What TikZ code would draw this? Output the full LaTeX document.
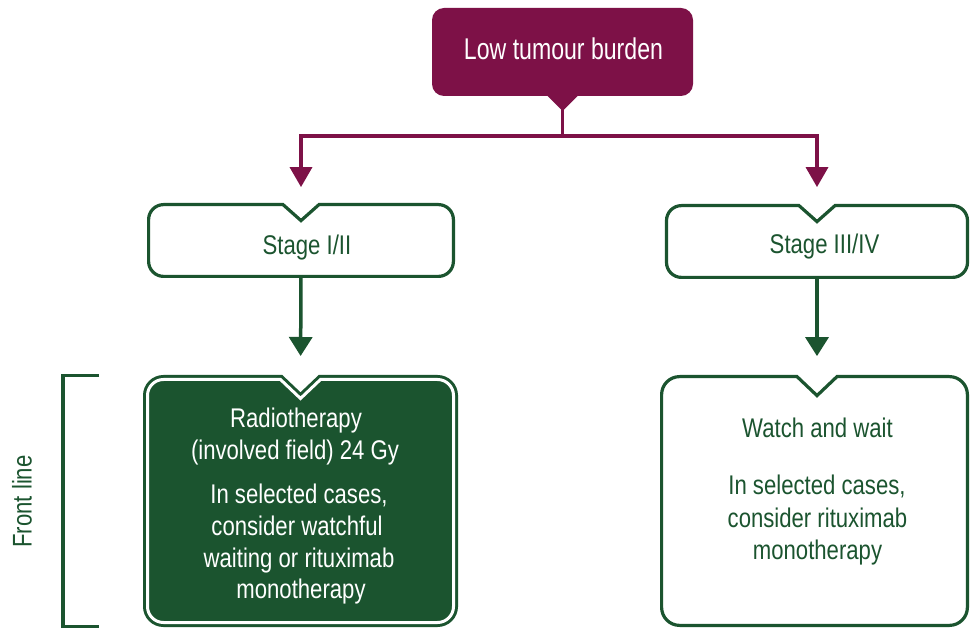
\documentclass[tikz,border=0pt]{standalone}
\usepackage{fontspec}
\setmainfont{Liberation Sans}[FakeStretch=0.82]
\newfontfamily\topfont{Liberation Sans}[FakeStretch=0.77]
\usetikzlibrary{arrows.meta}
\definecolor{mymaroon}{RGB}{125,17,71}
\definecolor{mygreen}{RGB}{27,84,47}
\newcommand\notchshape[5]{(#1.east) [rounded corners=#5] -- (#1.south east) -- (#1.south west) -- (#1.north west) -- ([xshift=-45pt]#2) [sharp corners] -- ([xshift=-#3]#2) -- ([yshift=-#4]#2) -- ([xshift=#3]#2) -- ([xshift=45pt]#2) [rounded corners=#5] -- (#1.north east) -- cycle}
\begin{document}
\begin{tikzpicture}[x=1pt,y=-1pt,
 box/.style={shape=rectangle, inner sep=0pt, outer sep=0pt},
 txt/.style={anchor=base, inner sep=0pt, outer sep=0pt, font=\fontsize{27}{27}\selectfont},
 mline/.style={draw=mymaroon, line width=3.5pt},
 marrow/.style={mline, -{Triangle[length=20pt,width=22pt]}},
 gline/.style={draw=mygreen, line width=3.5pt},
 garrow/.style={gline, -{Triangle[length=19pt,width=23pt]}},
 openbox/.style={draw=mygreen, line width=3.2pt, fill=white},
 darkbox/.style={draw=mygreen, fill=mygreen, line width=3pt, double=white, double distance=3pt},
]
\useasboundingbox (0,0) rectangle (970,628);
\fill[white] (0,0) rectangle (970,628);

% box frames
\node[box, minimum width=261pt, minimum height=88pt, fill=mymaroon, rounded corners=12pt] (top) at (562.5,52) {};
\node[box, minimum width=304.8pt, minimum height=71.8pt] (s1) at (301,240.5) {};
\node[box, minimum width=301pt, minimum height=71.8pt] (s2) at (817,241.5) {};
\node[box, minimum width=306pt, minimum height=243pt] (b1) at (300.5,501) {};
\node[box, minimum width=305.8pt, minimum height=248.8pt] (b2) at (814.5,501) {};

\coordinate (n1) at (s1.north);
\coordinate (n2) at (s2.north);
\coordinate (n3) at (b1.north);
\coordinate (n4) at (b2.north -| s2.south);

\draw[openbox] \notchshape{s1}{n1}{18pt}{16pt}{15pt};
\draw[openbox] \notchshape{s2}{n2}{18pt}{16pt}{15pt};
\draw[darkbox] \notchshape{b1}{n3}{20pt}{19pt}{16pt};
\draw[openbox] \notchshape{b2}{n4}{20pt}{19pt}{18pt};

% tab under top box
\fill[mymaroon] ([xshift=-16pt,yshift=1pt]top.south) -- ([xshift=16pt,yshift=1pt]top.south) -- ([yshift=-15pt]top.south) -- cycle;

% connectors
\coordinate (hub) at (562.5,136);
\draw[mline] (top.south) -- (hub);
\draw[marrow, shorten >=17.5pt] (hub) -| (s1.north);
\draw[marrow, shorten >=18.5pt] (hub) -| (s2.north);
\draw[garrow, shorten >=23.5pt] (s1.south) -- (b1.north);
\draw[garrow, shorten >=20.5pt] (s2.south) -- (n4);

% bracket
\draw[gline] (99,375.5) -- (63,375.5) -- (63,626.3) -- (99,626.3);

% texts
\node[txt, font=\topfont\fontsize{30}{30}\selectfont, text=white] (toptxt) at (563.5,59.5) {Low tumour burden};
\node[txt, text=mygreen] (s1txt) at (307,254.3) {Stage I/II};
\node[txt, text=mygreen] (s2txt) at (824.5,254) {Stage III/IV};

\node[txt, text=white] (r1) at (296,428) {Radiotherapy};
\node[txt, text=white] (r2) at (295,460) {(involved field) 24 Gy};
\node[txt, text=white] (r3) at (299,503) {In selected cases,};
\node[txt, text=white] (r4) at (297,535) {consider watchful};
\node[txt, text=white] (r5) at (299,567) {waiting or rituximab};
\node[txt, text=white] (r6) at (301,598) {monotherapy};

\node[txt, text=mygreen] (w1) at (817.5,437.3) {Watch and wait};
\node[txt, text=mygreen] (w2) at (817,494.5) {In selected cases,};
\node[txt, text=mygreen] (w3) at (817.5,527) {consider rituximab};
\node[txt, text=mygreen] (w4) at (817.5,559.5) {monotherapy};

\node[txt, anchor=center, rotate=90, text=mygreen] (fl) at (22,501.5) {Front line};
\end{tikzpicture}
\end{document}
